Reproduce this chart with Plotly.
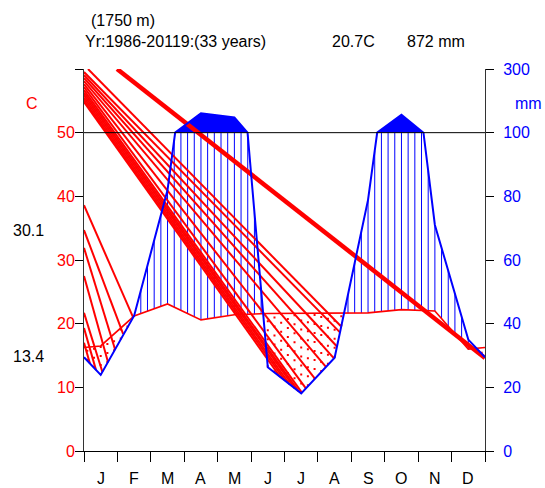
import plotly.graph_objects as go
import numpy as np

# ---------------- data ----------------
months = ['J', 'F', 'M', 'A', 'M', 'J', 'J', 'A', 'S', 'O', 'N', 'D']
temp = [16.5, 21.2, 23.1, 20.6, 21.4, 21.6, 21.6, 21.6, 21.7, 22.2, 22.0, 16.0]      # deg C
prec = [23.9, 42.5, 82.0, 161.0, 148.0, 26.3, 18.1, 29.3, 78.9, 156.0, 71.0, 35.0]  # mm

c_ticks = [0, 10, 20, 30, 40, 50, 60]
c_labels = ['0', '10', '20', '30', '40', '50', '']
mm_labels = ['0', '20', '40', '60', '80', '100', '300']

# odd red stray hatch lines of the dry periods (month, deg C)
hatch_x0 = [0, 0, 0, 0, 0, 0, 0,
            0.12, 0, 0, 0, 0, 0, 0, 0, 0, 0, 0, 0, 0]
hatch_y0 = [38.6, 34.7, 31.9, 27.5, 21.7, 19.3, 17.0,
            60.0, 59.53, 59.06, 58.59, 58.11, 57.64, 57.17, 56.7, 56.31, 55.92, 55.52, 55.13, 54.82]
hatch_x1 = [1.47, 1.17, 0.93, 0.72, 0.55, 0.36, 0.18,
            7.69, 7.66, 7.57, 7.48, 7.24, 6.91, 6.64, 6.52, 6.43, 6.31, 6.16, 6.02, 5.87]
hatch_y1 = [21.0, 18.4, 15.95, 13.95, 12.4, 12.7, 13.7,
            19.6, 18.64, 16.41, 14.54, 13.2, 11.36, 9.85, 9.18, 9.32, 9.81, 10.43, 11.04, 11.65]
thick_x = [0.99, 12.0]
thick_y = [60.0, 14.6]

# ---------------- helpers ----------------
def ps(p):
    p = np.asarray(p, dtype=float)
    return np.where(p <= 100, p / 2.0, 50 + (p - 100) / 20.0)

xm = np.array([0] + [i + 0.5 for i in range(12)] + [12])
t_edge = (temp[0] + temp[-1]) / 2
p_edge = (prec[0] + prec[-1]) / 2
tt = np.array([t_edge] + temp + [t_edge])
pp = np.array([p_edge] + prec + [p_edge])

# precipitation polyline with break points at 100 mm
px_l, pp_l = [], []
for i in range(len(xm)):
    if i > 0:
        a, b = pp[i - 1], pp[i]
        if (a - 100) * (b - 100) < 0:
            f = (100 - a) / (b - a)
            px_l.append(xm[i - 1] + f * (xm[i] - xm[i - 1]))
            pp_l.append(100.0)
    px_l.append(xm[i])
    pp_l.append(pp[i])
px_l = np.array(px_l)
py_l = ps(pp_l)

# vertical hatch lines
xs = 0.1 + 0.2 * np.arange(60)
t_at = np.interp(xs, xm, tt)
p_at = np.interp(xs, xm, pp) / 2
wet_x, wet_y, dry_x, dry_y = [], [], [], []
for x, t, p in zip(xs, t_at, p_at):
    if p > t:
        wet_x += [x, x, None]
        wet_y += [t, min(p, 50), None]
    else:
        dry_x += [x, x, None]
        dry_y += [p, t, None]

RED = '#FF0000'
BLUE = '#0000FF'
FONT = 'Liberation Sans, Arial, sans-serif'

fig = go.Figure()
fig.add_trace(go.Scatter(x=wet_x, y=wet_y, mode='lines',
                         line=dict(color=BLUE, width=1), hoverinfo='skip'))
fig.add_trace(go.Scatter(x=dry_x, y=dry_y, mode='lines',
                         line=dict(color=RED, width=2, dash='2px,7px'), hoverinfo='skip'))
# solid fill above 100 mm
fig.add_trace(go.Scatter(x=px_l, y=np.full(len(px_l), 50.0), mode='lines',
                         line=dict(width=0), hoverinfo='skip'))
fig.add_trace(go.Scatter(x=px_l, y=np.maximum(py_l, 50), mode='lines', fill='tonexty',
                         fillcolor=BLUE, line=dict(width=0), hoverinfo='skip'))
# stray red lines
hx, hy = [], []
for a, b, c, d in zip(hatch_x0, hatch_y0, hatch_x1, hatch_y1):
    hx += [a, c, None]
    hy += [b, d, None]
fig.add_trace(go.Scatter(x=hx, y=hy, mode='lines', line=dict(color=RED, width=2),
                         hoverinfo='skip'))
fig.add_trace(go.Scatter(x=thick_x, y=thick_y, mode='lines', line=dict(color=RED, width=4.5),
                         hoverinfo='skip'))
# temperature and precipitation curves
fig.add_trace(go.Scatter(x=xm, y=tt, mode='lines', line=dict(color=RED, width=1.6),
                         hoverinfo='skip'))
fig.add_trace(go.Scatter(x=px_l, y=py_l, mode='lines', line=dict(color=BLUE, width=2),
                         hoverinfo='skip'))
# 100 mm line
fig.add_trace(go.Scatter(x=[0, 12], y=[50, 50], mode='lines', line=dict(color='black', width=1),
                         hoverinfo='skip'))
# dummy for right axis
fig.add_trace(go.Scatter(x=[0], y=[0], yaxis='y2', mode='markers', marker=dict(opacity=0),
                         hoverinfo='skip'))

L, R, T, B = 84, 60, 69, 37
W, H = 545, 488
pw, ph = W - L - R, H - T - B

def pxx(px):
    return (px - L) / pw

def pyy(py):
    return (H - B - py) / ph

anns = []
def txt(s, x, y, color='black', anchor='left'):
    anns.append(dict(text=s, x=pxx(x), y=pyy(y), xref='paper', yref='paper',
                     xanchor=anchor, yanchor='middle', showarrow=False,
                     font=dict(family=FONT, size=16, color=color)))

txt('(1750 m)', 89, 20)
txt('Yr:1986-20119:(33 years)', 83, 41)
txt('20.7C', 330, 41)
txt('872 mm', 405, 41)
txt('C', 32, 103, RED, 'center')
txt('mm', 528, 103, BLUE, 'center')
txt('30.1', 28, 231, 'black', 'center')
txt('13.4', 28, 356, 'black', 'center')
for i, m in enumerate(months):
    anns.append(dict(text=m, x=i + 0.5, y=pyy(478), xref='x', yref='paper',
                     xanchor='center', yanchor='middle', showarrow=False,
                     font=dict(family=FONT, size=16, color='black')))

fig.update_layout(
    width=W, height=H, margin=dict(l=L, r=R, t=T, b=B),
    paper_bgcolor='white', plot_bgcolor='white', showlegend=False,
    annotations=anns,
    xaxis=dict(range=[0, 12], showgrid=False, zeroline=False, showline=True,
               linecolor='black', linewidth=1, ticks='outside', ticklen=10,
               tickcolor='black', tickvals=list(range(13)), ticktext=['']*13),
    yaxis=dict(range=[0, 60], showgrid=False, zeroline=False, showline=True,
               linecolor='#333', linewidth=1, ticks='outside', ticklen=8, tickcolor='black',
               tickvals=c_ticks, ticktext=c_labels, ticklabelstandoff=-3,
               tickfont=dict(family=FONT, size=16, color=RED)),
    yaxis2=dict(range=[0, 60], overlaying='y', side='right', showgrid=False, zeroline=False,
                showline=True, linecolor='#333', linewidth=1, ticks='outside', ticklen=8,
                tickcolor='black', tickvals=c_ticks, ticktext=mm_labels, ticklabelstandoff=6,
                tickfont=dict(family=FONT, size=16, color=BLUE)),
)
fig.write_html('out.html')
